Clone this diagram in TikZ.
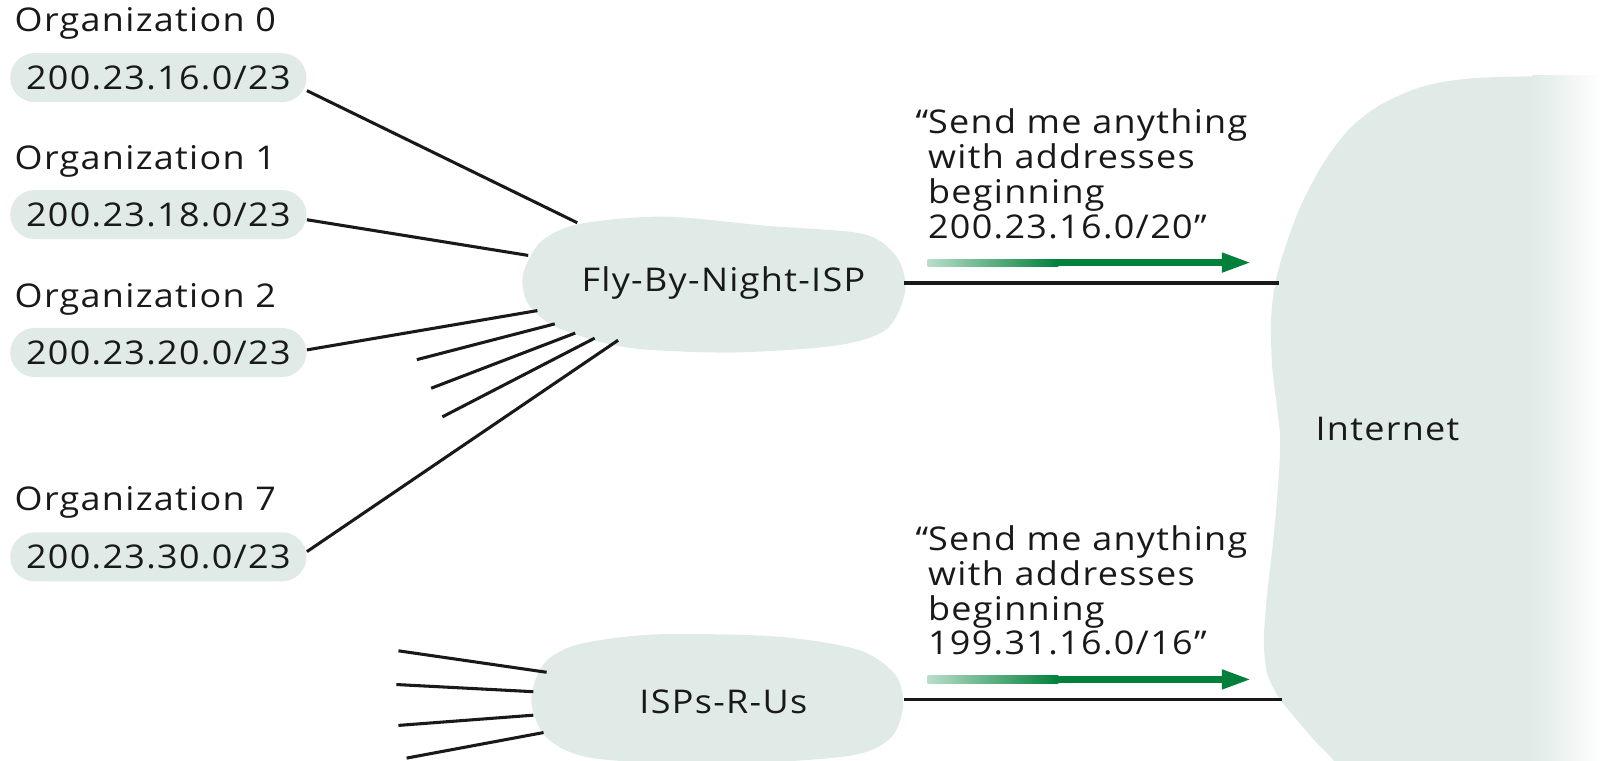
\documentclass[tikz,border=0pt]{standalone}
\usepackage{fontspec}
\setmainfont{Open Sans}[FakeStretch=1.1, LetterSpace=4]
\definecolor{cloudc}{RGB}{224,235,231}
\definecolor{agreen}{RGB}{0,128,58}
\definecolor{alight}{RGB}{185,222,200}
\begin{document}
\begin{tikzpicture}[x=0.5pt,y=-0.5pt,
  every node/.style={font=\fontsize{16}{19}\selectfont, inner sep=0pt, text=black!90},
  pill/.style={fill=cloudc, rounded corners=12pt, minimum width=145pt, minimum height=24pt},
  lbl/.style={anchor=base west},
  link/.style={line width=1.5pt, black!90},
  cloudfill/.style={fill=cloudc}]
\useasboundingbox (0,0) rectangle (1568,744);
\clip (0,0) rectangle (1568,744);

% Internet cloud
\path[cloudfill] plot[smooth] coordinates {(1568,74) (1450,76) (1395,84) (1352,102) (1321,126) (1295,160) (1272,204) (1256,248) (1248,278) (1244,313) (1245,357) (1250,400) (1253,431) (1251,475) (1246,531) (1240,584) (1237,627) (1240,658) (1250,680) (1263,697) (1285,723) (1305,744) (1312,760)} -- (1600,760) -- (1600,74) -- cycle;
\fill[left color=cloudc, right color=white] (1500,74) rectangle (1568,760);

% Fly-By-Night cloud
\path[cloudfill] plot[smooth cycle] coordinates {(512,268) (530,236) (568,219) (650,212) (750,221) (845,229) (878,252) (886,285) (868,322) (820,338) (720,345) (630,342) (585,334) (540,318) (516,296)};
% ISPs-R-Us cloud
\path[cloudfill] plot[smooth cycle] coordinates {(520,686) (532,650) (565,631) (640,621) (760,623) (840,636) (876,660) (884,690) (872,722) (830,740) (700,748) (580,742) (535,722)};

% labels and pills
\node[lbl] (o0) at (14,31) {Organization 0};
\node[lbl] (o1) at (14,166) {Organization 1};
\node[lbl] (o2) at (14,301) {Organization 2};
\node[lbl] (o7) at (14,500) {Organization 7};
\node[pill] (p0) at (155,76) {200.23.16.0/23};
\node[pill] (p1) at (155,210) {200.23.18.0/23};
\node[pill] (p2) at (155,345) {200.23.20.0/23};
\node[pill] (p7) at (155,545) {200.23.30.0/23};

\node[anchor=base] (fly) at (708,285) {Fly-By-Night-ISP};
\node (isp) at (708,687) {ISPs-R-Us};
\node (inet) at (1358,420) {Internet};

% connector end points
\coordinate (f0) at (565,218);
\coordinate (f1) at (517,250);
\coordinate (f2) at (526,304);
\coordinate (f3) at (543,317);
\coordinate (f4) at (563,326);
\coordinate (f5) at (582,331);
\coordinate (f7) at (605,333);
\coordinate (s3) at (408,352);
\coordinate (s4) at (422,380);
\coordinate (s5) at (433,408);
\coordinate (fe) at (885,277);
\coordinate (ie1) at (1252,277);
\coordinate (ge) at (885,685);
\coordinate (ie2) at (1255,685);
\coordinate (g1) at (535,658);
\coordinate (g2) at (522,677);
\coordinate (g3) at (522,700);
\coordinate (g4) at (532,717);
\coordinate (t1) at (390,637);
\coordinate (t2) at (388,670);
\coordinate (t3) at (390,710);
\coordinate (t4) at (398,742);

\draw[link] (p0.-5) -- (f0);
\draw[link] (p1.-2) -- (f1);
\draw[link] (p2.1) -- (f2);
\draw[link] (s3) -- (f3);
\draw[link] (s4) -- (f4);
\draw[link] (s5) -- (f5);
\draw[link] (p7.2) -- (f7);
\draw[link] (fe) -- (ie1);
\draw[link] (ge) -- (ie2);
\draw[link] (t1) -- (g1);
\draw[link] (t2) -- (g2);
\draw[link] (t3) -- (g3);
\draw[link] (t4) -- (g4);

% annotations
\node[lbl] (a1) at (908,131) {\llap{“}Send me anything};
\node[lbl] (a2) at (908,165) {with addresses};
\node[lbl] (a3) at (908,199) {beginning};
\node[lbl] (a4) at (908,233) {200.23.16.0/20”};
\node[lbl] (b1) at (908,539) {\llap{“}Send me anything};
\node[lbl] (b2) at (908,573) {with addresses};
\node[lbl] (b3) at (908,607) {beginning};
\node[lbl] (b4) at (908,641) {199.31.16.0/16”};

% green arrows
\foreach \yy/\nm in {257/ua, 665/la}{
  \coordinate (\nm s) at (908,\yy);
  \coordinate (\nm e) at (1223,\yy);
  \fill[left color=alight, right color=agreen] (908,\yy-3.5) rectangle (1036,\yy+3.5);
  \fill[agreen] (1035,\yy-3.5) rectangle (1200,\yy+3.5);
  \fill[agreen] (1196,\yy-10) -- (\nm e) -- (1196,\yy+10) -- cycle;
}
\end{tikzpicture}
\end{document}
